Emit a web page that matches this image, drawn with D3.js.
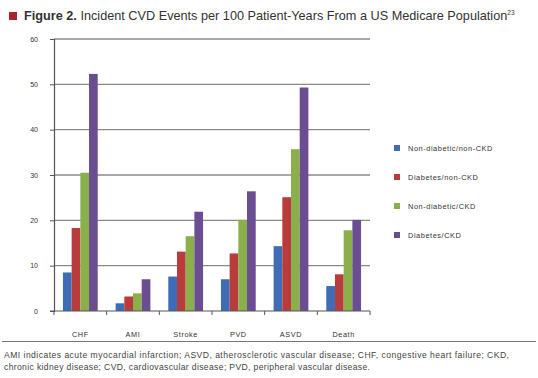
<!DOCTYPE html>
<html><head><meta charset="utf-8">
<script src="https://cdn.jsdelivr.net/npm/d3@7"></script>
<style>
body{margin:0;background:#fff;font-family:"Liberation Sans",Arial,sans-serif;}
svg text{font-family:"Liberation Sans",Arial,sans-serif;}
</style></head>
<body>
<svg id="c" width="538" height="378"></svg>
<script>
const categories = ["CHF","AMI","Stroke","PVD","ASVD","Death"];
const seriesNames = ["Non-diabetic/non-CKD","Diabetes/non-CKD","Non-diabetic/CKD","Diabetes/CKD"];
const nonDiabNonCKD = [8.5, 1.7, 7.6, 7.0, 14.3, 5.5];
const diabNonCKD    = [18.3, 3.2, 13.1, 12.7, 25.1, 8.1];
const nonDiabCKD    = [30.5, 3.9, 16.5, 20.1, 35.7, 17.8];
const diabCKD       = [52.3, 7.0, 21.9, 26.4, 49.3, 20.1];
const yTicks = [0,10,20,30,40,50,60];
const colors = ["#3f6db5","#b93c3d","#8bb04b","#6b4e92"];
const seriesValues = [nonDiabNonCKD, diabNonCKD, nonDiabCKD, diabCKD];

const svg = d3.select("#c");
const x0 = 54, x1 = 370, yTop = 39, yBot = 311;

// title
svg.append("rect").attr("x",9).attr("y",12).attr("width",8).attr("height",8).attr("fill","#a8232b");
const t = svg.append("text").attr("x",24).attr("y",20).attr("font-size",12.7).attr("fill","#333");
t.append("tspan").attr("font-weight","bold").text("Figure 2.");
t.append("tspan").text(" Incident CVD Events per 100 Patient-Years From a US Medicare Population");
t.append("tspan").attr("font-size",6.5).attr("dy",-5).text("23");

const x = d3.scaleBand().domain(categories).range([x0,x1]).paddingInner(0.34).paddingOuter(0.17);
const xs = d3.scaleBand().domain(d3.range(4)).range([0,x.bandwidth()]);
const y = d3.scaleLinear().domain([0,60]).range([yBot,yTop]);

// gridlines
svg.append("g").selectAll("line").data(yTicks.filter(d=>d>0)).join("line")
  .attr("x1",x0).attr("x2",x1).attr("y1",d=>y(d)).attr("y2",d=>y(d))
  .attr("stroke","#8a8a8a").attr("stroke-width",1.4);

// bars
const g = svg.append("g");
seriesValues.forEach((vals,si)=>{
  g.selectAll(null).data(vals).join("rect")
    .attr("x",(d,i)=>x(categories[i])+xs(si))
    .attr("width",xs.bandwidth())
    .attr("y",d=>y(d)).attr("height",d=>yBot-y(d))
    .attr("fill",colors[si]);
});

// y axis
const ya = svg.append("g").attr("transform",`translate(${x0},0)`)
  .call(d3.axisLeft(y).tickValues(yTicks).tickSize(4).tickPadding(12).tickFormat(d3.format("d")));
ya.select(".domain").attr("stroke","#555").attr("stroke-width",1.2);
ya.selectAll(".tick line").attr("stroke","#555");
ya.selectAll("text").attr("font-size",7).attr("fill","#333").attr("font-family","Liberation Sans, Arial, sans-serif");

// x axis
svg.append("line").attr("x1",x0-4).attr("x2",x1).attr("y1",yBot).attr("y2",yBot).attr("stroke","#555").attr("stroke-width",1.2);
const bounds = categories.map(c=>x(c)-x.step()*x.paddingInner()/2);
bounds.push(x1);
svg.append("g").selectAll("line").data(bounds).join("line")
  .attr("x1",d=>d).attr("x2",d=>d).attr("y1",yBot).attr("y2",yBot+4).attr("stroke","#555");
svg.append("g").selectAll("text").data(categories).join("text")
  .attr("x",d=>x(d)+x.bandwidth()/2).attr("y",337).attr("text-anchor","middle")
  .attr("font-size",7.3).attr("letter-spacing",0.6).attr("fill","#333").text(d=>d);

// legend
const lg = svg.append("g");
seriesNames.forEach((n,i)=>{
  const ly = 148 + i*29;
  lg.append("rect").attr("x",394).attr("y",ly-3).attr("width",6).attr("height",6).attr("fill",colors[i]);
  lg.append("text").attr("x",408).attr("y",ly+2.5).attr("font-size",7.4).attr("letter-spacing",0.55).attr("fill","#333").text(n);
});

// rule + footnote
svg.append("line").attr("x1",2).attr("x2",536).attr("y1",341.5).attr("y2",341.5).attr("stroke","#777").attr("stroke-width",1);
svg.append("text").attr("x",4).attr("y",358).attr("font-size",8.6).attr("fill","#444")
  .attr("textLength",505).attr("lengthAdjust","spacing")
  .text("AMI indicates acute myocardial infarction; ASVD, atherosclerotic vascular disease; CHF, congestive heart failure; CKD,");
svg.append("text").attr("x",4).attr("y",370).attr("font-size",8.6).attr("fill","#444")
  .attr("textLength",366).attr("lengthAdjust","spacing")
  .text("chronic kidney disease; CVD, cardiovascular disease; PVD, peripheral vascular disease.");
</script>
</body></html>
